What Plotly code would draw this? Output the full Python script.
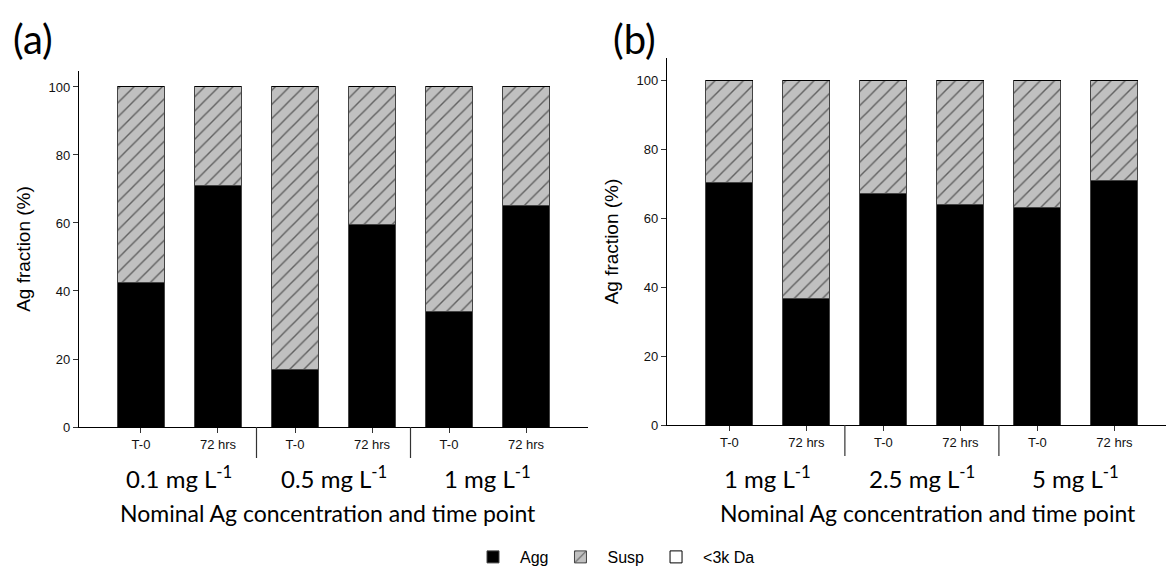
import plotly.graph_objects as go

# ---------------- data ----------------
time_labels = ["T-0", "72 hrs", "T-0", "72 hrs", "T-0", "72 hrs"]
conc_a = ["0.1 mg L<sup>-1</sup>", "0.5 mg L<sup>-1</sup>", "1 mg L<sup>-1</sup>"]
conc_b = ["1 mg L<sup>-1</sup>", "2.5 mg L<sup>-1</sup>", "5 mg L<sup>-1</sup>"]

agg_a = [42.5, 71.0, 17.0, 59.5, 34.0, 65.0]
susp_a = [57.5, 29.0, 83.0, 40.5, 66.0, 35.0]
lt3k_a = [0, 0, 0, 0, 0, 0]

agg_b = [70.3, 36.8, 67.2, 64.0, 63.2, 70.8]
susp_b = [29.7, 63.2, 32.8, 36.0, 36.8, 29.2]
lt3k_b = [0, 0, 0, 0, 0, 0]

series_names = ["Agg", "Susp", "<3k Da"]
y_ticks = [0, 20, 40, 60, 80, 100]

W, H = 1168, 574
xpos = list(range(len(time_labels)))

AX_FONT = dict(family="Liberation Sans, Arial, sans-serif", size=13, color="#111")
CAL = "Lato, Open Sans, sans-serif"

fig = go.Figure()

def add_panel(agg, susp, small, xa, ya, show):
    fig.add_trace(go.Bar(
        x=xpos, y=agg, name=series_names[0], xaxis=xa, yaxis=ya,
        marker=dict(color="black", line=dict(color="#444", width=1)),
        width=0.61, showlegend=show, legendgroup="agg"))
    fig.add_trace(go.Bar(
        x=xpos, y=susp, name=series_names[1], xaxis=xa, yaxis=ya,
        marker=dict(color="#c0c0c0", line=dict(color="#444", width=1),
                    pattern=dict(shape="/", fgcolor="black", bgcolor="#c0c0c0",
                                 size=10, solidity=0.14)),
        width=0.61, showlegend=show, legendgroup="susp"))
    fig.add_trace(go.Bar(
        x=xpos, y=small, name=series_names[2], xaxis=xa, yaxis=ya,
        marker=dict(color="white", line=dict(color="black", width=1)),
        width=0.61, showlegend=show, legendgroup="small"))

add_panel(agg_a, susp_a, lt3k_a, "x", "y", True)
add_panel(agg_b, susp_b, lt3k_b, "x2", "y2", False)

def px(x):
    return x / W

def py(y):
    return 1 - y / H

xcommon = dict(tickmode="array", tickvals=xpos, ticktext=time_labels,
               ticks="outside", ticklen=5, tickcolor="#333", tickwidth=1,
               showline=True, linecolor="black", linewidth=1.3, automargin=False,
               showgrid=False, zeroline=False, tickfont=AX_FONT, fixedrange=True)
ycommon = dict(tickmode="array", tickvals=y_ticks, ticks="outside", ticklen=5,
               tickcolor="#333", showline=True, linecolor="black", linewidth=1.3,
               automargin=False,
               showgrid=False, zeroline=False, tickfont=AX_FONT, fixedrange=True)
YT_FONT = dict(family="Liberation Sans, Arial", size=19, color="black")

fig.update_layout(
    width=W, height=H, barmode="stack",
    margin=dict(l=0, r=0, t=0, b=0, autoexpand=False),
    paper_bgcolor="white", plot_bgcolor="white",
    xaxis=dict(domain=[px(79), px(588)], range=[-0.805, 5.805], anchor="y", **xcommon),
    yaxis=dict(domain=[py(427), py(71)], range=[0, 104.7], anchor="x",
               title=dict(text="Ag fraction (%)", font=YT_FONT, standoff=12), **ycommon),
    xaxis2=dict(domain=[px(667), px(1166)], range=[-0.81, 5.67], anchor="y2", **xcommon),
    yaxis2=dict(domain=[py(425), py(58)], range=[0, 106.4], anchor="x2",
                title=dict(text="Ag fraction (%)", font=YT_FONT, standoff=12), **ycommon),
    legend=dict(orientation="h", x=px(613), xanchor="center", y=py(557), yanchor="middle",
                font=dict(family="Liberation Sans, Arial", size=16, color="black"),
                itemwidth=44, tracegroupgap=0, bgcolor="rgba(0,0,0,0)"),
)

shapes = []
annotations = []
for xa, ya_bottom, concs, letter, lx, title_x in [
        ("x", 427, conc_a, "(a)", 11, 328),
        ("x2", 425, conc_b, "(b)", 611, 928)]:
    for k in range(len(concs) - 1):
        xd = 2 * k + 1.5
        shapes.append(dict(type="line", xref=xa, yref="paper", x0=xd, x1=xd,
                           y0=py(ya_bottom), y1=py(ya_bottom + 31),
                           line=dict(color="#333", width=1.2)))
    for k, c in enumerate(concs):
        annotations.append(dict(text=c, xref=xa, yref="paper", x=2 * k + 0.5,
                                y=py(477), xanchor="center", yanchor="middle",
                                showarrow=False,
                                font=dict(family=CAL, size=24, color="black")))
    annotations.append(dict(text="Nominal Ag concentration and time point", xref="paper", yref="paper",
                            x=px(title_x), y=py(513), xanchor="center", yanchor="middle",
                            showarrow=False, font=dict(family=CAL, size=23, color="black")))
    annotations.append(dict(text=letter, xref="paper", yref="paper", x=px(lx), y=py(39),
                            xanchor="left", yanchor="middle", showarrow=False,
                            font=dict(family=CAL, size=40, color="black")))

fig.update_layout(shapes=shapes, annotations=annotations)

fig.write_html("out.html", config={"displayModeBar": False},
               post_script="document.body.style.margin='0';")
